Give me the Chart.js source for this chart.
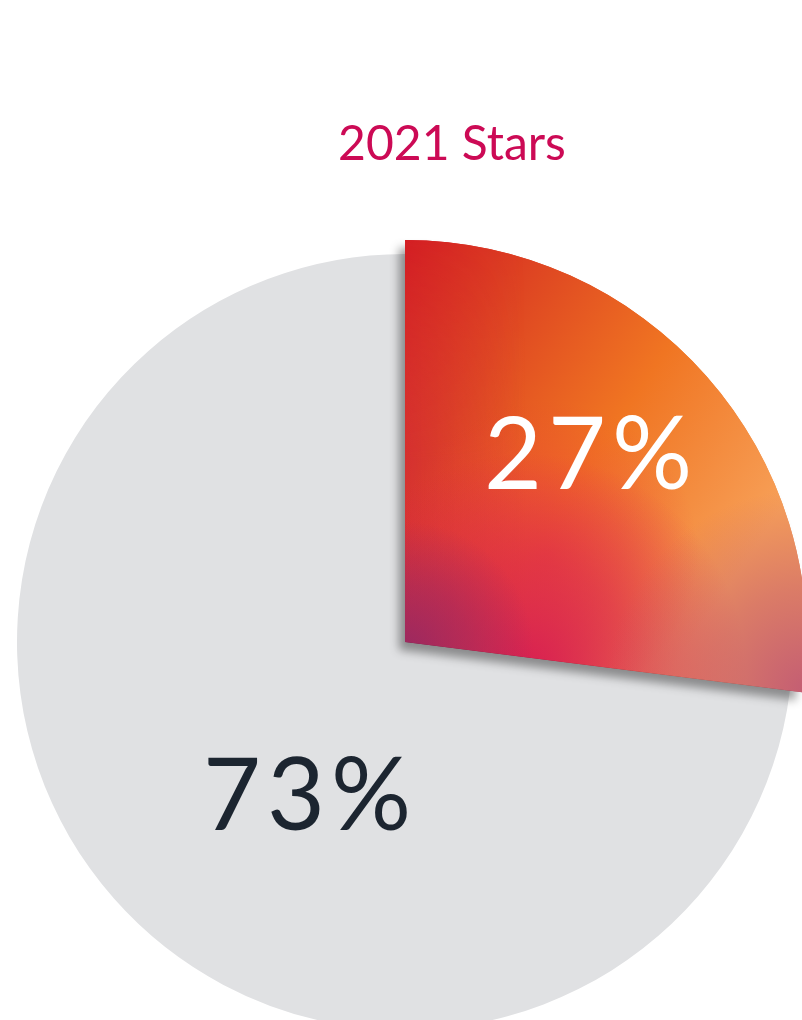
<!DOCTYPE html>
<html>
<head>
<meta charset="utf-8">
<title>2021 Stars</title>
<script src="https://cdn.jsdelivr.net/npm/chart.js@4.4.0/dist/chart.umd.min.js"></script>
<style>
  html, body { margin: 0; padding: 0; background: #ffffff; overflow: hidden; }
  #wrap { position: relative; width: 802px; height: 1020px; }
</style>
</head>
<body>
<div id="wrap"><canvas id="myChart"></canvas></div>
<script>
// chart values
var categories = ["Others", "2021 Stars"];
var shares = [73, 27];
var shareLabels = ["73%", "27%"];

var greyColor = "#e0e1e3";
var pieRadius = 388;   // grey part
var popRadius = 402;   // highlighted slice sticks out a bit

// soft colour blob for the slice fill
function blob(g, x, y, r, rgb, a) {
  var rg = g.createRadialGradient(x, y, 0, x, y, r);
  rg.addColorStop(0, "rgba(" + rgb + "," + a + ")");
  rg.addColorStop(0.5, "rgba(" + rgb + "," + (a * 0.55) + ")");
  rg.addColorStop(1, "rgba(" + rgb + ",0)");
  g.fillStyle = rg;
  g.fillRect(x - r, y - r, r * 2, r * 2);
}

// red / orange / magenta mesh-like fill, built once per layout
var fillCache = null;
function sliceFill(chart) {
  var area = chart.chartArea;
  if (!area) return "#ee5a2a";
  var key = chart.width + "x" + chart.height;
  if (fillCache && fillCache.key === key) return fillCache.pattern;

  var cx = (area.left + area.right) / 2;
  var cy = (area.top + area.bottom) / 2;
  var R = popRadius;
  var off = document.createElement("canvas");
  off.width = chart.width;
  off.height = chart.height;
  var g = off.getContext("2d");

  // base: red top-left to light orange on the right
  var lin = g.createLinearGradient(cx, cy - R, cx + R * 0.95, cy - R * 0.35);
  lin.addColorStop(0, "#d41e22");
  lin.addColorStop(0.3, "#e04a22");
  lin.addColorStop(0.6, "#f07522");
  lin.addColorStop(1, "#f7a058");
  g.fillStyle = lin;
  g.fillRect(cx - 30, cy - R - 30, R + 60, R + 90);

  // crimson tint along the left edge, fading in from the top
  var left = g.createLinearGradient(cx, 0, cx + 0.3 * R, 0);
  left.addColorStop(0, "rgba(204,28,62,0.5)");
  left.addColorStop(1, "rgba(204,28,62,0)");
  var off2 = document.createElement("canvas");
  off2.width = chart.width;
  off2.height = chart.height;
  var g2 = off2.getContext("2d");
  g2.fillStyle = left;
  g2.fillRect(cx - 30, cy - R - 30, 0.4 * R, R + 60);
  g2.globalCompositeOperation = "destination-in";
  var fade = g2.createLinearGradient(0, cy - R, 0, cy - 0.45 * R);
  fade.addColorStop(0, "rgba(0,0,0,0.1)");
  fade.addColorStop(1, "rgba(0,0,0,1)");
  g2.fillStyle = fade;
  g2.fillRect(0, 0, chart.width, chart.height);
  g.drawImage(off2, 0, 0);

  // red-pink in the middle, magenta lower down
  blob(g, cx + 0.35 * R, cy - 0.22 * R, 0.38 * R, "236,56,62", 0.55);
  blob(g, cx + 0.3 * R, cy + 0.08 * R, 0.55 * R, "214,24,84", 0.95);
  blob(g, cx, cy + 0.02 * R, 0.32 * R, "148,40,100", 0.9);
  blob(g, cx + R, cy + 0.12 * R, 0.5 * R, "190,86,118", 0.9);

  fillCache = { key: key, pattern: chart.ctx.createPattern(off, "no-repeat") };
  return fillCache.pattern;
}

function sliceColor(context) {
  return context.dataIndex === 1 ? sliceFill(context.chart) : greyColor;
}

// bigger radius + drop shadow for the highlighted slice
var popPlugin = {
  id: "popSlice",
  afterDatasetUpdate: function (chart, args) {
    var arc = args.meta.data[1];
    if (arc) arc.outerRadius = popRadius;
  },
  afterDatasetsDraw: function (chart) {
    var arc = chart.getDatasetMeta(0).data[1];
    var ctx = chart.ctx;
    ctx.save();
    ctx.shadowColor = "rgba(0,0,0,0.38)";
    ctx.shadowBlur = 10;
    ctx.shadowOffsetX = -6;
    ctx.shadowOffsetY = 8;
    arc.draw(ctx);
    ctx.restore();
  }
};

// big percentage text inside the slices
var pctPlugin = {
  id: "pctLabels",
  afterDatasetsDraw: function (chart, args, opts) {
    var ctx = chart.ctx;
    chart.getDatasetMeta(0).data.forEach(function (arc, i) {
      var spot = opts.spots[i];
      var a = spot.angle * Math.PI / 180;
      var x = arc.x + Math.sin(a) * spot.dist * pieRadius;
      var y = arc.y - Math.cos(a) * spot.dist * pieRadius;
      ctx.save();
      ctx.font = opts.font;
      ctx.letterSpacing = opts.spacing + "px";
      ctx.fillStyle = opts.colors[i];
      ctx.textAlign = "center";
      ctx.textBaseline = "alphabetic";
      ctx.fillText(shareLabels[i], x + opts.spacing / 2, y);
      ctx.restore();
    });
  }
};

// title sits a bit right of the pie centre
var titleShift = {
  id: "titleShift",
  afterLayout: function (chart) {
    chart.titleBlock.left += 47;
    chart.titleBlock.right += 47;
  }
};

var ctx = document.getElementById("myChart").getContext("2d");
var myChart = new Chart(ctx, {
  type: "pie",
  data: {
    labels: categories,
    datasets: [
      {
        data: shares,
        backgroundColor: sliceColor,
        borderWidth: 0,
        clip: false,
      },
    ],
  },
  options: {
    responsive: true,
    maintainAspectRatio: false,
    animation: false,
    radius: pieRadius,
    rotation: 97.2,
    layout: { padding: { left: 8 } },
    events: [],
    plugins: {
      legend: { display: false },
      tooltip: { enabled: false },
      title: {
        display: true,
        text: "2021 Stars",
        color: "#cc0a55",
        font: { family: "Lato", size: 48, weight: "normal", lineHeight: 1.2 },
        padding: { top: 116, bottom: 90.4 },
      },
      pctLabels: {
        font: "100px Lato",
        spacing: 6,
        colors: ["#1c2530", "#ffffff"],
        spots: [
          { angle: 207.5, dist: 0.546 },
          { angle: 50.1, dist: 0.615 },
        ],
      },
    },
  },
  plugins: [titleShift, popPlugin, pctPlugin],
});
</script>
</body>
</html>
